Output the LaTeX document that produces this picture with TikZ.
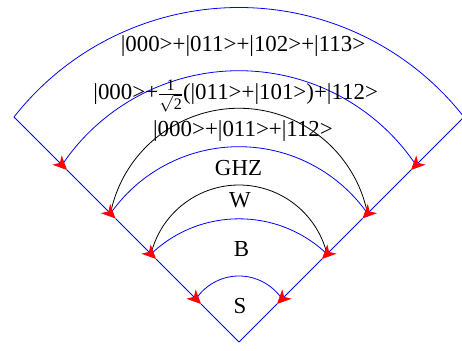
\documentclass[tikz,border=0pt]{standalone}
\usepackage{fontspec}
\setmainfont{Liberation Serif}
\usetikzlibrary{arrows.meta}
\newcommand{\fracpart}[1]{\hbox{\fontsize{16}{16}\selectfont #1}}
\begin{document}
\begin{tikzpicture}[x=1pt,y=1pt,
  wedge/.style={blue, line width=0.8pt},
  flow/.style={wedge, -{Stealth[color=red, length=14pt, width=13pt, inset=4pt]}},
  bluearc/.style={blue, line width=0.8pt},
  blackarc/.style={black, line width=0.8pt},
  lbl/.style={anchor=base, inner sep=0pt, font=\fontsize{22.9}{27}\selectfont}]
\useasboundingbox (0,0) rectangle (462,350);
% apex and corners
\coordinate (apex) at (239,8);
\coordinate (L0) at (14,233);   \coordinate (R0) at (464,233);
% arc end points
\coordinate (L1) at (62,185);     \coordinate (R1) at (416,185);
\coordinate (L2) at (110.5,136.5);\coordinate (R2) at (367.5,136.5);
\coordinate (L3) at (151,96);     \coordinate (R3) at (327,96);
\coordinate (L4) at (196,51);     \coordinate (R4) at (282,51);
% arrow tips
\coordinate (tL1) at (67,180); \coordinate (tR1) at (411,180);
\coordinate (tL2) at (115.5,131.5);    \coordinate (tR2) at (362.5,131.5);
\coordinate (tL3) at (156,91); \coordinate (tR3) at (322,91);
\coordinate (tL4) at (201,46); \coordinate (tR4) at (277,46);
% arcs
\draw[bluearc]  (L0) arc[start angle=141.90, end angle=38.10, radius=285.91pt];
\draw[bluearc]  (L1) arc[start angle=146.09, end angle=33.91, radius=213.26pt];
\draw[blackarc] (L2) arc[start angle=168.62, end angle=11.38, radius=131.08pt];
\draw[bluearc]  (L2) arc[start angle=144.94, end angle=35.06, radius=156.99pt];
\draw[blackarc] (L3) arc[start angle=166.18, end angle=13.82, radius=90.62pt];
\draw[bluearc]  (L3) arc[start angle=133.60, end angle=46.40, radius=127.6pt];
\draw[bluearc]  (L4) arc[start angle=146.28, end angle=33.72, radius=51.7pt];
% wedge sides with arrows
\draw[flow] (L0) -- (tL1);
\draw[flow] (tL1) -- (tL2);
\draw[flow] (tL2) -- (tL3);
\draw[flow] (tL3) -- (tL4);
\draw[wedge] (tL4) -- (apex);
\draw[flow] (R0) -- (tR1);
\draw[flow] (tR1) -- (tR2);
\draw[flow] (tR2) -- (tR3);
\draw[flow] (tR3) -- (tR4);
\draw[wedge] (tR4) -- (apex);
% labels
\node[lbl] (t1) at (243,298.3) {|000>+|011>+|102>+|113>};
\node[lbl] (t2) at (235.7,250) {|000>+$\frac{\fracpart{1}}{\sqrt{\fracpart{2}}}$(|011>+|101>)+|112>};
\node[lbl] (t3) at (243,213.3) {|000>+|011>+|112>};
\node[lbl] (ghz) at (238.5,174.5) {GHZ};
\node[lbl] (w) at (240,142) {W};
\node[lbl] (b) at (241.5,93) {B};
\node[lbl] (s) at (240,37) {S};
\end{tikzpicture}
\end{document}
